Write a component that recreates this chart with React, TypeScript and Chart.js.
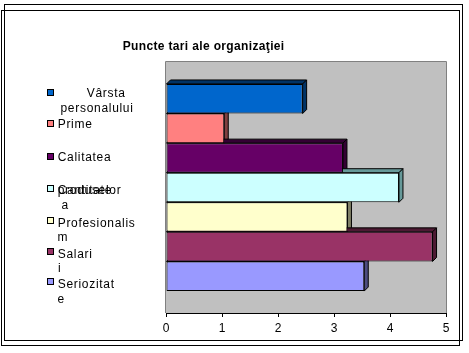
import React, { useEffect, useRef } from "react";
import { Chart, registerables } from "chart.js";

Chart.register(...registerables);

const seriesNames = [
  "Vârsta personalului",
  "Prime",
  "Calitatea produselor",
  "Cantitatea",
  "Profesionalism",
  "Salarii",
  "Seriozitate",
];
const seriesValues = [2.44, 1.04, 3.16, 4.16, 3.24, 4.76, 3.54];
const seriesColors = ["#0066CC", "#FF8080", "#660066", "#CCFFFF", "#FFFFCC", "#993366", "#9999FF"];
const sideColors = ["#003366", "#804040", "#330033", "#669999", "#808066", "#4D1A33", "#4D4D80"];
const xMin = 0;
const xMax = 5;
const xStep = 1;
const chartTitle = "Puncte tari ale organizaţiei";

const FONT = '"Liberation Sans", Arial, sans-serif';
const DEPTH = 4;

const plot3d = {
  id: "plot3d",
  beforeDraw(chart: any) {
    const { ctx, chartArea: a } = chart;
    ctx.save();
    ctx.fillStyle = "#C0C0C0";
    ctx.fillRect(a.left, a.top, a.right - a.left, a.bottom - a.top);
    ctx.strokeStyle = "#808080";
    ctx.lineWidth = 1;
    ctx.beginPath();
    ctx.moveTo(a.left - 0.5, a.bottom);
    ctx.lineTo(a.left - 0.5, a.top - 0.5);
    ctx.lineTo(a.right + 0.5, a.top - 0.5);
    ctx.lineTo(a.right + 0.5, a.bottom);
    ctx.stroke();
    ctx.restore();
  },
  beforeDatasetsDraw(chart: any) {
    const { ctx } = chart;
    ctx.save();
    ctx.lineWidth = 1;
    ctx.strokeStyle = "#000";
    chart.data.datasets.forEach((ds: any, di: number) => {
      const meta = chart.getDatasetMeta(di);
      meta.data.forEach((el: any) => {
        const p = el.getProps(["x", "y", "base", "height"], true);
        const top = p.y - p.height / 2;
        const bottom = p.y + p.height / 2;
        const d = DEPTH;
        // top face
        ctx.fillStyle = sideColors[di];
        ctx.beginPath();
        ctx.moveTo(p.base, top);
        ctx.lineTo(p.base + d, top - d);
        ctx.lineTo(p.x + d, top - d);
        ctx.lineTo(p.x, top);
        ctx.closePath();
        ctx.fill();
        ctx.stroke();
        // right face
        ctx.beginPath();
        ctx.moveTo(p.x, top);
        ctx.lineTo(p.x + d, top - d);
        ctx.lineTo(p.x + d, bottom - d);
        ctx.lineTo(p.x, bottom);
        ctx.closePath();
        ctx.fill();
        ctx.stroke();
      });
    });
    ctx.restore();
  },
};

type Line = { text: string; left: number; base: number };
const legendLayout: { square: number; lines: Line[] }[] = [
  { square: 88.5, lines: [ { text: "Vârsta", left: 86.7, base: 97 }, { text: "personalului", left: 60.5, base: 111.7 } ] },
  { square: 120, lines: [ { text: "Prime", left: 57.7, base: 128.3 } ] },
  { square: 152.7, lines: [ { text: "Calitatea", left: 57.7, base: 160.7 } ] },
  { square: 185, lines: [ { text: "produselor", left: 57.7, base: 194 }, { text: "Cantitate", left: 57.7, base: 194 }, { text: "a", left: 61.5, base: 209.3 } ] },
  { square: 216.7, lines: [ { text: "Profesionalis", left: 57.7, base: 226.7 }, { text: "m", left: 57.5, base: 240.5 } ] },
  { square: 248.3, lines: [ { text: "Salari", left: 57.7, base: 258.3 }, { text: "i", left: 58, base: 272 } ] },
  { square: 278.3, lines: [ { text: "Seriozitat", left: 57.7, base: 288.3 }, { text: "e", left: 57.5, base: 303.3 } ] },
];

export default function App() {
  const ref = useRef<HTMLCanvasElement>(null);
  useEffect(() => {
    if (!ref.current) return;
    const chart = new Chart(ref.current, {
      type: "bar",
      data: {
        labels: [""],
        datasets: seriesNames.map((name, i) => ({
          label: name,
          data: [seriesValues[i]],
          backgroundColor: seriesColors[i],
          borderColor: "#000",
          borderWidth: 1,
          borderSkipped: false,
          categoryPercentage: 0.825,
          barPercentage: 1,
        })),
      },
      options: {
        indexAxis: "y",
        responsive: false,
        animation: false,
        devicePixelRatio: 1,
        layout: { padding: { left: 166, right: 23, top: 62, bottom: 20 } },
        plugins: {
          legend: { display: false },
          title: { display: false },
          tooltip: { enabled: false },
        },
        scales: {
          x: {
            min: xMin,
            max: xMax,
            ticks: {
              stepSize: xStep,
              color: "#000",
              font: { family: FONT, size: 12 },
              padding: 4,
            },
            grid: { drawOnChartArea: false, drawTicks: true, tickLength: 4, color: "#000" },
            border: { color: "#000", width: 1 },
            afterFit: (s: any) => {
              s.height = 20;
            },
          },
          y: { display: false },
        },
      } as any,
      plugins: [plot3d],
    });
    return () => chart.destroy();
  }, []);

  return (
    <div style={{ position: "fixed", left: 0, top: 0, width: 469, height: 353, background: "#fff", overflow: "hidden", fontFamily: FONT }}>
      <canvas ref={ref} width={469} height={353} style={{ position: "absolute", left: 0, top: 0, width: 469, height: 353 }} />
      <div style={{ position: "absolute", left: 4, top: 4, width: 459, height: 337, border: "1px solid #000", boxSizing: "border-box", pointerEvents: "none" }} />
      <div style={{ position: "absolute", left: 1, top: 10, width: 459, height: 336, border: "1px solid #000", boxSizing: "border-box", pointerEvents: "none" }} />
      <div style={{ position: "absolute", left: 122.7, top: 39.5, fontWeight: "bold", fontSize: 12, lineHeight: "12px", letterSpacing: "0.35px", whiteSpace: "nowrap", color: "#000" }}>
        {chartTitle}
      </div>
      {legendLayout.map((item, i) => (
        <React.Fragment key={i}>
          <div style={{ position: "absolute", left: 46.5, top: item.square, width: 7, height: 7, background: seriesColors[i], border: "1px solid #000", boxSizing: "border-box" }} />
          {item.lines.map((ln, j) => (
            <div key={j} style={{ position: "absolute", left: ln.left, top: ln.base - 10, fontSize: 12, lineHeight: "12px", letterSpacing: "0.7px", whiteSpace: "nowrap", color: "#000" }}>
              {ln.text}
            </div>
          ))}
        </React.Fragment>
      ))}
    </div>
  );
}
